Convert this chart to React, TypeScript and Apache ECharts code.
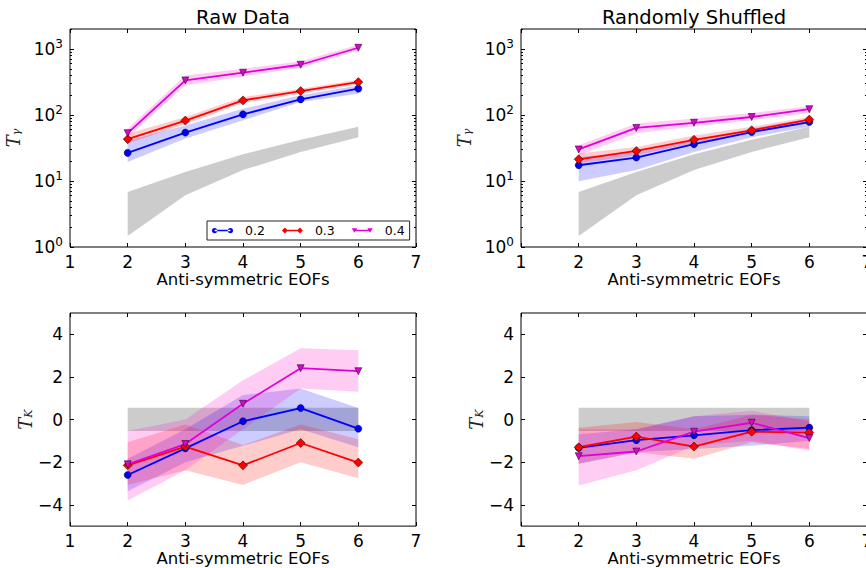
import React, { useEffect, useRef } from 'react';
import * as echarts from 'echarts';

// ---------- data ----------
const xs = [2, 3, 4, 5, 6];
const seriesNames = ['0.2', '0.3', '0.4'];

// Raw Data, T_gamma (log)
const rawG02 = [26.6, 54, 102, 172, 250];
const rawG02Lo = [19.4, 44, 83, 157, 210];
const rawG02Hi = [41, 69, 124, 198, 280];
const rawG03 = [43, 82, 166, 230, 314];
const rawG03Lo = [37, 72, 151, 210, 290];
const rawG03Hi = [52, 93, 186, 250, 341];
const rawG04 = [53, 333, 436, 575, 1040];
const rawG04Lo = [46, 280, 383, 518, 946];
const rawG04Hi = [62, 396, 501, 652, 1153];

// Randomly Shuffled, T_gamma (log)
const shufG02 = [17.3, 22.6, 36, 55, 78];
const shufG02Lo = [9.9, 14.6, 27.5, 46, 66];
const shufG02Hi = [23, 27.5, 41, 62, 88];
const shufG03 = [21.3, 28.5, 42, 58.5, 85];
const shufG03Lo = [18.4, 24.5, 37.7, 53, 75];
const shufG03Hi = [26, 32.7, 49, 66, 93];
const shufG04 = [30, 63.5, 76, 93, 122];
const shufG04Lo = [24.5, 53, 67, 83, 107];
const shufG04Hi = [34.7, 74, 88, 107, 135];

// null band, T_gamma
const nullGLo = [1.47, 6.1, 14.6, 27.5, 46];
const nullGHi = [6.8, 13.7, 25.4, 42, 66];

// Raw Data, T_K
const rawK02 = [-2.6, -1.35, -0.08, 0.54, -0.43];
const rawK02Lo = [-3.37, -2.0, -1.23, -0.46, -1.3];
const rawK02Hi = [-1.84, -0.46, 1.15, 1.46, 0.54];
const rawK03 = [-2.15, -1.27, -2.15, -1.1, -2.02];
const rawK03Lo = [-3.07, -2.38, -3.07, -2.0, -2.76];
const rawK03Hi = [-1.07, -0.23, -1.2, -0.23, -0.92];
const rawK04 = [-2.1, -1.15, 0.74, 2.41, 2.27];
const rawK04Lo = [-3.8, -2.38, -0.46, 1.46, 1.3];
const rawK04Hi = [-0.54, 0.0, 1.84, 3.34, 3.25];

// Randomly Shuffled, T_K
const shufK02 = [-1.33, -0.97, -0.74, -0.5, -0.38];
const shufK02Lo = [-2.07, -1.53, -1.38, -1.23, -1.0];
const shufK02Hi = [-0.69, -0.46, 0.15, 0.23, 0.15];
const shufK03 = [-1.3, -0.8, -1.27, -0.57, -0.61];
const shufK03Lo = [-2.07, -1.53, -1.84, -1.07, -1.38];
const shufK03Hi = [-0.38, -0.12, -0.46, 0.23, 0.0];
const shufK04 = [-1.72, -1.5, -0.57, -0.15, -0.87];
const shufK04Lo = [-3.1, -2.38, -1.23, -1.0, -1.46];
const shufK04Hi = [-0.46, -0.46, 0.15, 0.41, -0.08];

// null band, T_K
const nullKLo = [-0.54, -0.54, -0.54, -0.54, -0.54];
const nullKHi = [0.55, 0.55, 0.55, 0.55, 0.55];

// ticks
const logMajor = [1, 10, 100, 1000];
const logMinor = [2, 3, 4, 5, 6, 7, 8, 9, 20, 30, 40, 50, 60, 70, 80, 90, 200, 300, 400, 500, 600, 700, 800, 900, 2000];
const kTicks = [-4, -2, 0, 2, 4];

const titles = ['Raw Data', 'Randomly Shuffled'];
const xName = 'Anti-symmetric EOFs';

// ---------- styles ----------
const FONT = 'DejaVu Sans';
const lineColors = ['#0000ff', '#ff0000', '#e000d8'];
const bandColors = ['rgba(0,0,255,0.2)', 'rgba(255,0,0,0.2)', 'rgba(255,0,200,0.2)'];
const grayBand = 'rgba(128,128,128,0.4)';
const symbols = ['circle', 'diamond', 'triangle'];
const symbolSizes = [7, 9, 7];
const symbolRot = [0, 0, 180];
// legend icons: line with a marker at each end (matplotlib style)
const legendIcons = [
  'path://M0,4a3.5,3.5 0 1,0 7,0a3.5,3.5 0 1,0 -7,0Z M21,4a3.5,3.5 0 1,0 7,0a3.5,3.5 0 1,0 -7,0Z M3.5,3.1h21v1.8h-21Z',
  'path://M0,4L4,0L8,4L4,8Z M20,4L24,0L28,4L24,8Z M4,3.1h20v1.8h-20Z',
  'path://M0.5,1L7.5,1L4,7Z M20.5,1L27.5,1L24,7Z M4,3.1h20v1.8h-20Z',
];

export default function App() {
  const ref = useRef<HTMLDivElement>(null);
  useEffect(() => {
    const chart = echarts.init(ref.current!, null, { renderer: 'svg' });

    const gridBoxes = [
      { left: 70, top: 29, width: 346, height: 218 },
      { left: 521, top: 29, width: 346, height: 218 },
      { left: 70, top: 313, width: 346, height: 218 },
      { left: 521, top: 313, width: 346, height: 218 },
    ];
    const grid = gridBoxes.map((b) => ({
      ...b,
      show: true,
      borderColor: '#000',
      borderWidth: 1,
      backgroundColor: 'rgba(0,0,0,0)',
    }));

    const labelStyle = { fontSize: 17, color: '#000', fontFamily: FONT };

    const xAxis: any[] = [];
    for (let g = 0; g < 4; g++) {
      const base = {
        type: 'value',
        gridIndex: g,
        min: 1,
        max: 7,
        interval: 1,
        axisLine: { show: false, onZero: false },
        splitLine: { show: false },
        axisTick: { show: true, inside: true, length: 4, lineStyle: { color: '#000', width: 1 } },
      };
      xAxis.push({
        ...base,
        position: 'bottom',
        axisLabel: { ...labelStyle, margin: 6, formatter: (v: number) => String(v) },
        name: xName,
        nameLocation: 'middle',
        nameGap: 22,
        nameTextStyle: { fontSize: 16.5, color: '#000', fontFamily: FONT },
      });
      xAxis.push({ ...base, position: 'top', axisLabel: { show: false } });
    }

    const yAxis: any[] = [];
    const mainY: number[] = [];
    const nameRich = {
      i: { fontFamily: 'DejaVu Serif', fontStyle: 'italic', fontSize: 18, color: '#222' },
      s: { fontFamily: 'DejaVu Serif', fontStyle: 'italic', fontSize: 11, color: '#222', verticalAlign: 'bottom', padding: [6, 0, 0, 0] },
    };
    for (let g = 0; g < 4; g++) {
      const isLog = g < 2;
      const common: any = isLog
        ? { type: 'log', logBase: 10, min: 1, max: 2000 }
        : { type: 'value', min: -5, max: 5 };
      const tickBase = { show: true, inside: true, lineStyle: { color: '#000', width: 1 } };
      mainY.push(yAxis.length);
      yAxis.push({
        ...common,
        gridIndex: g,
        position: 'left',
        axisLine: { show: false, onZero: false },
        splitLine: { show: false },
        axisTick: { ...tickBase, length: 4, customValues: isLog ? logMajor : kTicks },
        axisLabel: isLog
          ? {
              ...labelStyle,
              margin: 7,
              customValues: logMajor,
              formatter: (v: number) => '10{sup|' + Math.round(Math.log10(v)) + '}',
              rich: { sup: { fontSize: 12, fontFamily: FONT, color: '#000', verticalAlign: 'top', padding: [0, 0, 10, 0] } },
            }
          : {
              ...labelStyle,
              margin: 7,
              customValues: kTicks,
              formatter: (v: number) => (v < 0 ? '\u2212' + Math.abs(v) : String(v)),
            },
        name: isLog ? '{i|T}{s|γ}' : '{i|T}{s|K}',
        nameLocation: 'middle',
        nameRotate: 90,
        nameGap: isLog ? 48 : 26,
        nameTextStyle: { rich: nameRich },
      });
      yAxis.push({
        ...common,
        gridIndex: g,
        position: 'right',
        axisLine: { show: false, onZero: false },
        splitLine: { show: false },
        axisTick: { ...tickBase, length: 4, customValues: isLog ? logMajor : kTicks },
        axisLabel: { show: false },
      });
      if (isLog) {
        for (const pos of ['left', 'right']) {
          yAxis.push({
            ...common,
            gridIndex: g,
            position: pos,
            axisLine: { show: false, onZero: false },
            splitLine: { show: false },
            axisTick: { ...tickBase, length: 2, customValues: logMinor },
            axisLabel: { show: false },
          });
        }
      }
    }

    const panels = [
      { lines: [rawG02, rawG03, rawG04], lo: [rawG02Lo, rawG03Lo, rawG04Lo], hi: [rawG02Hi, rawG03Hi, rawG04Hi], nLo: nullGLo, nHi: nullGHi },
      { lines: [shufG02, shufG03, shufG04], lo: [shufG02Lo, shufG03Lo, shufG04Lo], hi: [shufG02Hi, shufG03Hi, shufG04Hi], nLo: nullGLo, nHi: nullGHi },
      { lines: [rawK02, rawK03, rawK04], lo: [rawK02Lo, rawK03Lo, rawK04Lo], hi: [rawK02Hi, rawK03Hi, rawK04Hi], nLo: nullKLo, nHi: nullKHi },
      { lines: [shufK02, shufK03, shufK04], lo: [shufK02Lo, shufK03Lo, shufK04Lo], hi: [shufK02Hi, shufK03Hi, shufK04Hi], nLo: nullKLo, nHi: nullKHi },
    ];

    const series: any[] = [];
    const band = (g: number, lo: number[], hi: number[], color: string) => {
      const n = xs.length;
      series.push({
        type: 'custom',
        xAxisIndex: 2 * g,
        yAxisIndex: mainY[g],
        silent: true,
        z: 1,
        data: xs.map((x, i) => [x, lo[i], hi[i]]),
        encode: { x: 0, y: [1, 2] },
        renderItem: (params: any, api: any) => {
          if (params.dataIndex !== 0) return null;
          const upper: number[][] = [];
          const lower: number[][] = [];
          for (let i = 0; i < n; i++) {
            const x = api.value(0, i);
            upper.push(api.coord([x, api.value(2, i)]));
            lower.push(api.coord([x, api.value(1, i)]));
          }
          return {
            type: 'polygon',
            shape: { points: upper.concat(lower.reverse()) },
            style: { fill: color, stroke: 'none' },
          };
        },
      });
    };
    panels.forEach((p, g) => {
      band(g, p.nLo, p.nHi, grayBand);
      for (let k = 0; k < 3; k++) band(g, p.lo[k], p.hi[k], bandColors[k]);
    });
    panels.forEach((p, g) => {
      for (let k = 0; k < 3; k++) {
        series.push({
          type: 'line',
          name: seriesNames[k],
          xAxisIndex: 2 * g,
          yAxisIndex: mainY[g],
          data: xs.map((x, i) => [x, p.lines[k][i]]),
          symbol: symbols[k],
          symbolSize: symbolSizes[k],
          symbolRotate: symbolRot[k],
          showAllSymbol: true,
          lineStyle: { color: lineColors[k], width: 1.8 },
          itemStyle: { color: lineColors[k], borderColor: '#000', borderWidth: 0.5 },
          z: 3,
        });
      }
    });

    const option: any = {
      animation: false,
      backgroundColor: '#fff',
      grid,
      xAxis,
      yAxis,
      series,
      legend: {
        data: seriesNames.map((name, k) => ({ name, icon: legendIcons[k] })),
        left: 207,
        top: 221,
        orient: 'horizontal',
        itemWidth: 21,
        itemHeight: 7,
        itemGap: 17,
        padding: [3, 5],
        borderColor: '#222',
        borderWidth: 1,
        backgroundColor: '#fff',
        itemStyle: { borderWidth: 0 },
        textStyle: { fontSize: 12.5, fontFamily: FONT, color: '#000', padding: [0, 0, 0, 7] },
        selectedMode: false,
        z: 10,
      },
      graphic: [
        { type: 'text', x: 243, y: 17, style: { text: titles[0], fontSize: 19.5, fontFamily: FONT, fill: '#000', align: 'center', verticalAlign: 'middle' } },
        { type: 'text', x: 694, y: 17, style: { text: titles[1], fontSize: 19.5, fontFamily: FONT, fill: '#000', align: 'center', verticalAlign: 'middle' } },
      ],
    };
    chart.setOption(option);
    return () => chart.dispose();
  }, []);
  return (
    <div style={{ position: 'absolute', left: 0, top: 0, width: 866, height: 568, overflow: 'hidden' }}>
      <div ref={ref} style={{ width: 890, height: 568 }} />
    </div>
  );
}
